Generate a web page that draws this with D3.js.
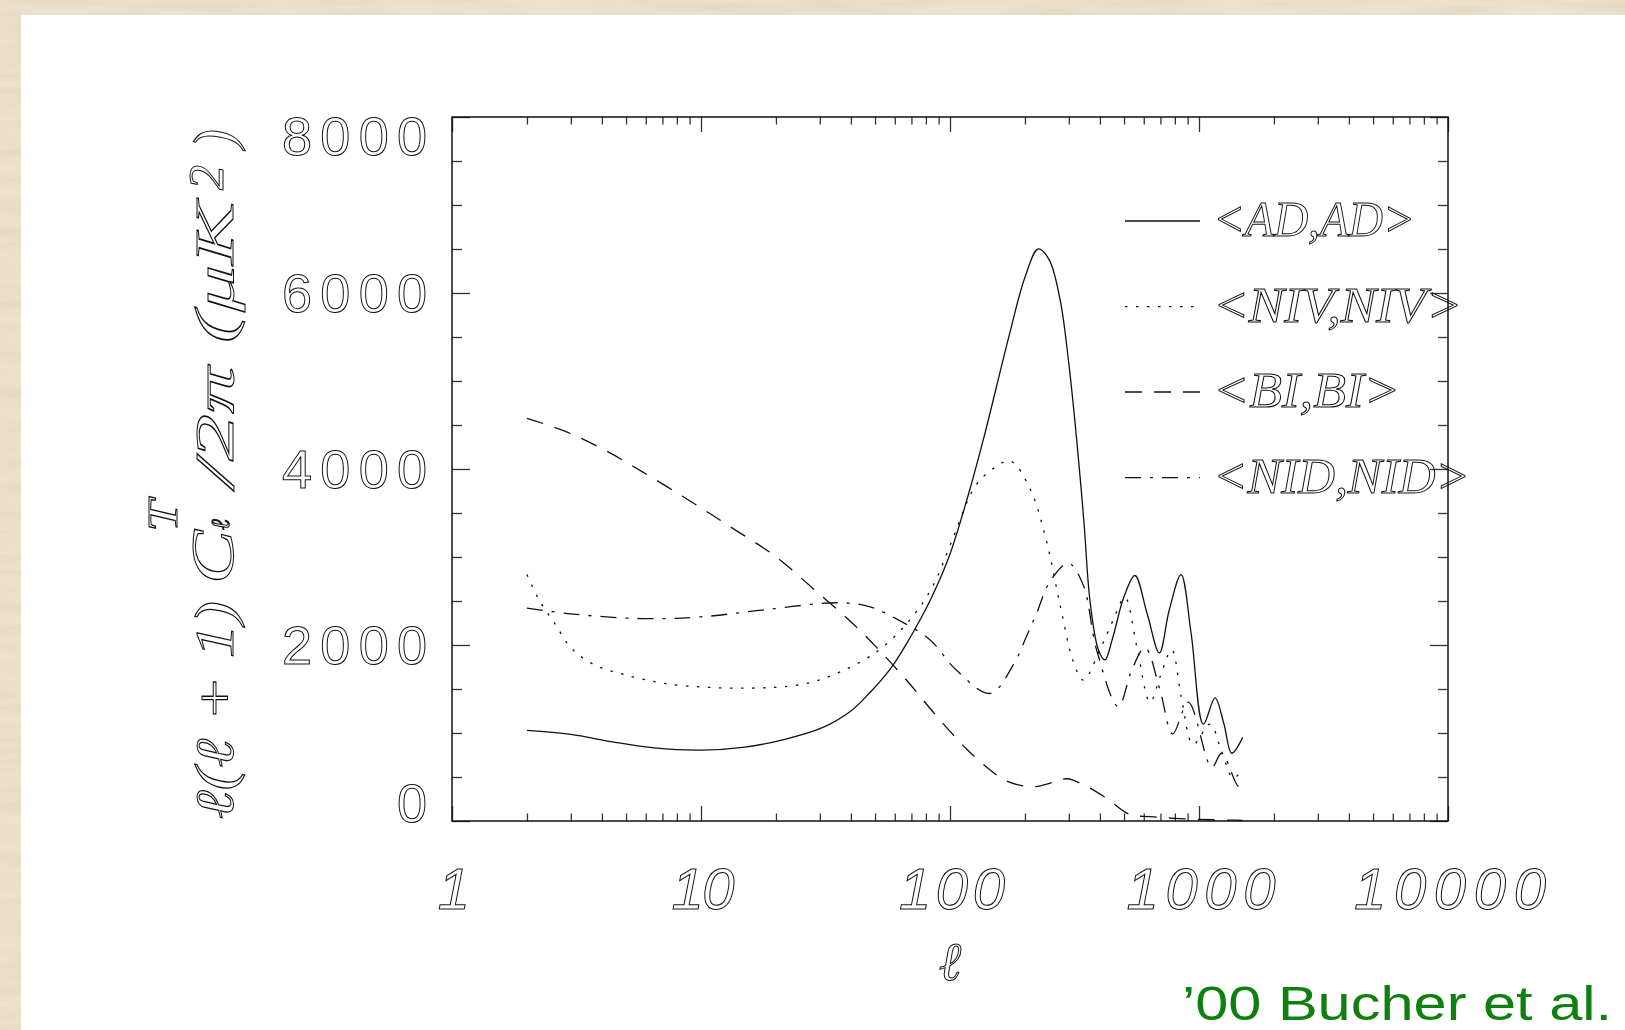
<!DOCTYPE html>
<html>
<head>
<meta charset="utf-8">
<script src="https://cdn.jsdelivr.net/npm/d3@7"></script>
<style>
  html, body { margin: 0; padding: 0; background: #ece2cc; }
  svg { display: block; }
</style>
</head>
<body>
<svg id="chart" width="1625" height="1030"></svg>
<script>
// tick labels
var xTickLabels = [1, 10, 100, 1000, 10000];
var yTickLabels = [0, 2000, 4000, 6000, 8000];

// <AD,AD>  (solid)
var adEll = [2, 3, 4.4, 6.5, 10, 15, 21.5, 30.7, 40, 47, 58, 69, 83, 99, 118, 136, 174, 200, 226, 250, 277, 300, 323, 345, 365, 394, 419, 450, 500, 553, 620, 693, 760, 847, 930, 1041, 1160, 1260, 1353, 1498];
var adVal = [1030, 985, 900, 830, 805, 840, 925, 1060, 1250, 1440, 1740, 2080, 2500, 3000, 3690, 4330, 5550, 6180, 6500, 6380, 5920, 5200, 4320, 3400, 2500, 1950, 1830, 2080, 2550, 2790, 2350, 1910, 2400, 2800, 2130, 1100, 1400, 1100, 770, 950];

// <NIV,NIV> (dotted)
var nivEll = [2, 2.24, 2.6, 3, 3.7, 4.9, 7.5, 15, 25.7, 36.6, 52, 69, 85, 102, 126, 150, 175, 210, 244, 277, 313, 343, 400, 450, 504, 562, 636, 700, 777, 850, 948, 1107, 1230, 1373, 1498];
var nivVal = [2800, 2510, 2235, 1970, 1780, 1665, 1555, 1510, 1555, 1700, 1945, 2285, 2660, 3190, 3800, 4010, 4090, 3770, 3180, 2450, 1810, 1600, 1945, 2270, 2540, 1990, 1350, 1650, 1945, 1400, 870, 1100, 800, 485, 600];

// <BI,BI> (dashed)
var biEll = [2, 2.87, 4.1, 5.8, 8.9, 13.1, 20, 29.6, 39.3, 50.4, 66.8, 88.7, 117.6, 145, 170, 215, 260, 295, 350, 426, 528, 636, 800, 1000, 1330, 1498];
var biVal = [4576, 4424, 4216, 3970, 3648, 3344, 3003, 2588, 2284, 1981, 1602, 1186, 807, 580, 450, 390, 440, 480, 400, 257, 74, 50, 30, 18, 10, 8];

// <NID,NID> (dash-dot)
var nidEll = [2, 3.1, 5.8, 10, 18, 35, 47, 62, 83, 106, 145, 180, 203, 222, 252, 299, 343, 388, 474, 537, 607, 697, 784, 906, 1125, 1233, 1439, 1498];
var nidVal = [2420, 2350, 2300, 2320, 2400, 2480, 2440, 2285, 2060, 1715, 1450, 1780, 2100, 2350, 2720, 2930, 2680, 1945, 1300, 1715, 1970, 1490, 990, 1350, 610, 770, 395, 450];

var seriesNames = ["<AD,AD>", "<NIV,NIV>", "<BI,BI>", "<NID,NID>"];

var svg = d3.select("#chart");

// paper background + white slide
var defs = svg.append("defs");
var f = defs.append("filter").attr("id", "paper").attr("x", 0).attr("y", 0).attr("width", "100%").attr("height", "100%");
f.append("feTurbulence").attr("type", "fractalNoise").attr("baseFrequency", "0.01 0.08").attr("numOctaves", 3).attr("seed", 7);
f.append("feColorMatrix").attr("type", "matrix")
  .attr("values", "0 0 0 0 0.6  0 0 0 0 0.5  0 0 0 0 0.33  0.9 0 0 0 -0.3");
svg.append("rect").attr("width", 1625).attr("height", 1030).attr("fill", "#ede3cd");
svg.append("rect").attr("width", 1625).attr("height", 1030).attr("filter", "url(#paper)").attr("opacity", 0.6);
svg.append("rect").attr("x", 21).attr("y", 15).attr("width", 1604).attr("height", 1015).attr("fill", "#fff");

// plot frame (top is a reserved window name, so m-prefixed)
var mLeft = 452, mRight = 1448, mTop = 117, mBottom = 821;

var x = d3.scaleLog().domain([1, 10000]).range([mLeft, mRight]);
var y = d3.scaleLinear().domain([0, 8000]).range([mBottom, mTop]);

// ticks
var xAll = x.ticks();
var isMajor = function (v) { return Math.abs(Math.log10(v) - Math.round(Math.log10(v))) < 1e-9; };
var xMajor = xAll.filter(isMajor), xMinor = xAll.filter(function (v) { return !isMajor(v); });
var yAll = d3.range(0, 8001, 500);
var yMajor = yAll.filter(function (v) { return v % 2000 === 0; }), yMinor = yAll.filter(function (v) { return v % 2000 !== 0; });

function tickGroup(axis, tx, ty) {
  var g = svg.append("g").attr("transform", "translate(" + tx + "," + ty + ")").call(axis);
  g.select(".domain").remove();
  g.selectAll("line").attr("stroke", "#333").attr("stroke-width", 1.3);
  return g;
}
tickGroup(d3.axisBottom(x).tickValues(xMinor).tickSize(-7.5).tickFormat(""), 0, mBottom);
tickGroup(d3.axisBottom(x).tickValues(xMajor).tickSize(-15).tickFormat(""), 0, mBottom);
tickGroup(d3.axisTop(x).tickValues(xMinor).tickSize(-7.5).tickFormat(""), 0, mTop);
tickGroup(d3.axisTop(x).tickValues(xMajor).tickSize(-15).tickFormat(""), 0, mTop);
tickGroup(d3.axisLeft(y).tickValues(yMinor).tickSize(-10).tickFormat(""), mLeft, 0);
tickGroup(d3.axisLeft(y).tickValues(yMajor).tickSize(-18).tickFormat(""), mLeft, 0);
tickGroup(d3.axisRight(y).tickValues(yMinor).tickSize(-10).tickFormat(""), mRight, 0);
tickGroup(d3.axisRight(y).tickValues(yMajor).tickSize(-18).tickFormat(""), mRight, 0);

svg.append("rect").attr("x", mLeft).attr("y", mTop).attr("width", mRight - mLeft).attr("height", mBottom - mTop)
  .attr("fill", "none").attr("stroke", "#111").attr("stroke-width", 1.5);

// tick labels (hollow outline look)
function outline(sel) {
  return sel.attr("fill", "none").attr("stroke", "#111").attr("stroke-width", 1);
}
outline(svg.append("g").selectAll("text").data(yTickLabels).join("text"))
  .attr("x", 427)
  .attr("y", function (d) { return Math.min(Math.max(y(d), mTop + 19), mBottom - 18) + 19; })
  .attr("text-anchor", "end")
  .attr("font-family", "Liberation Sans, Arial, sans-serif")
  .attr("font-size", 54)
  .attr("textLength", function (d) { return String(d).length > 1 ? String(d).length * 36 + 1 : null; })
  .attr("lengthAdjust", "spacing")
  .text(function (d) { return d; });

outline(svg.append("g").selectAll("text").data(xTickLabels).join("text"))
  .attr("x", function (d) { return x(d) + 2; })
  .attr("y", 909)
  .attr("text-anchor", "middle")
  .attr("font-family", "Liberation Sans, Arial, sans-serif")
  .attr("font-style", "italic")
  .attr("font-size", 58)
  .attr("textLength", function (d) { var n = String(d).length; return n > 1 ? 20 + 43 * (n - 1) : null; })
  .attr("lengthAdjust", "spacing")
  .text(function (d) { return d; });

// axis titles
outline(svg.append("text")).attr("x", 950).attr("y", 980).attr("text-anchor", "middle")
  .attr("font-family", "Liberation Serif, serif").attr("font-style", "italic").attr("font-size", 54).text("ℓ");

var yl = svg.append("g").attr("transform", "translate(233,470) rotate(-90)");
var yParts = [
  { t: "ℓ(ℓ + 1)", x: -349, y: 0, s: 54, len: 218 },
  { t: "C", x: -114, y: 0, s: 62, len: 54 },
  { t: "T", x: -62, y: -56, s: 42, len: 32 },
  { t: "ℓ", x: -60, y: -4, s: 26, len: null },
  { t: "/2π (μK", x: -17, y: 0, s: 54, len: 285 },
  { t: "2", x: 280, y: -10, s: 50, len: null },
  { t: ")", x: 322, y: 0, s: 56, len: null }
];
outline(yl.selectAll("text").data(yParts).join("text"))
  .attr("x", function (d) { return d.x; })
  .attr("y", function (d) { return d.y; })
  .attr("font-family", "Liberation Serif, serif")
  .attr("font-style", "italic")
  .attr("font-size", function (d) { return d.s; })
  .attr("textLength", function (d) { return d.len; })
  .attr("lengthAdjust", "spacingAndGlyphs")
  .text(function (d) { return d.t; });

// curves
var line = d3.line()
  .x(function (d) { return x(d[0]); })
  .y(function (d) { return y(d[1]); })
  .curve(d3.curveCatmullRom.alpha(0.5));

var dashes = [null, "2.5,8.5", "17,12", "16,9,3,9"];
var series = [d3.zip(adEll, adVal), d3.zip(nivEll, nivVal), d3.zip(biEll, biVal), d3.zip(nidEll, nidVal)];

svg.append("g").selectAll("path").data(series).join("path")
  .attr("d", line)
  .attr("fill", "none")
  .attr("stroke", "#111")
  .attr("stroke-width", 1.3)
  .attr("stroke-dasharray", function (d, i) { return dashes[i]; });

// legend
var legendY = [221, 306.7, 392, 477.7];
var lg = svg.append("g");
lg.selectAll("line").data(seriesNames).join("line")
  .attr("x1", 1125).attr("x2", 1200)
  .attr("y1", function (d, i) { return legendY[i]; })
  .attr("y2", function (d, i) { return legendY[i]; })
  .attr("stroke", "#111").attr("stroke-width", 1.3)
  .attr("stroke-dasharray", function (d, i) { return dashes[i]; });
var legendLen = [202, 249, 187, 257];
outline(lg.selectAll("text").data(seriesNames).join("text"))
  .attr("x", 1213)
  .attr("y", function (d, i) { return legendY[i] + 15; })
  .attr("font-family", "Liberation Serif, serif")
  .attr("font-style", "italic")
  .attr("font-size", 50)
  .attr("textLength", function (d, i) { return legendLen[i]; })
  .attr("lengthAdjust", "spacingAndGlyphs")
  .text(function (d) { return d; });

// citation
svg.append("text").attr("x", 1182).attr("y", 1020)
  .attr("font-family", "Liberation Sans, Arial, sans-serif")
  .attr("font-size", 49)
  .attr("fill", "#0f7f0f")
  .attr("textLength", 430).attr("lengthAdjust", "spacingAndGlyphs")
  .text("’00 Bucher et al.");
</script>
</body>
</html>
